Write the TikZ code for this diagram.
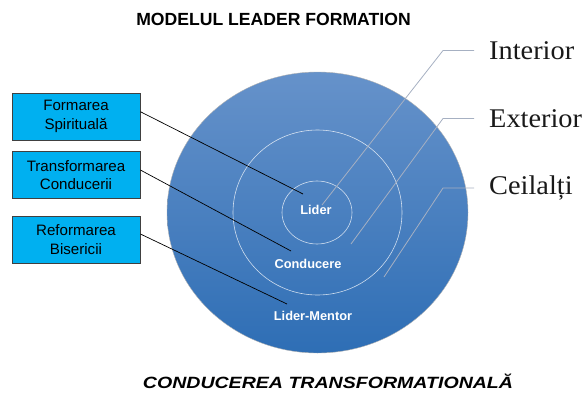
\documentclass[tikz,border=0pt]{standalone}
\usepackage{fontspec}
\newfontfamily\arial{Liberation Sans}
\newfontfamily\serifside{Liberation Serif}
\usetikzlibrary{shapes.geometric}
\definecolor{boxcyan}{RGB}{0,176,240}
\definecolor{boxline}{RGB}{64,64,64}
\definecolor{topblue}{RGB}{102,146,202}
\definecolor{botblue}{RGB}{46,110,181}
\definecolor{callgray}{RGB}{166,176,194}
\newcommand{\sidetext}[1]{\scalebox{1.05}[1]{#1}}
\begin{document}
\begin{tikzpicture}[x=1pt,y=-1pt,
 lbox/.style={draw=boxline, line width=0.8pt, fill=boxcyan, minimum width=128pt, minimum height=47pt, inner sep=0pt, align=center, font=\arial\fontsize{15.1}{18.3}\selectfont},
 ring/.style={ellipse, draw=white, draw opacity=0.75, line width=0.6pt, inner sep=0pt},
 inlbl/.style={text=white, font=\arial\bfseries\fontsize{12.8}{14}\selectfont, inner sep=0pt},
 sidelbl/.style={anchor=west, inner xsep=15pt, inner ysep=0pt, text=black!90, font=\serifside\fontsize{27}{30}\selectfont},
 callout/.style={draw=callgray, line width=0.8pt},
 lead/.style={draw=black, line width=0.7pt}]
\useasboundingbox (0,0) rectangle (586,394);
% circles
\node[ellipse, minimum width=301pt, minimum height=281pt, inner sep=0pt, top color=topblue, bottom color=botblue, draw=black!30, line width=0.4pt] (outer) at (317.5,212.5) {};
\node[ring, minimum width=169pt, minimum height=165pt] (mid) at (317.5,212.5) {};
\node[ring, minimum width=70pt, minimum height=63pt] (inner) at (317,212.5) {};
% inner labels
\node[inlbl] (lider) at (316,210) {Lider};
\node[inlbl] (cond) at (308,264) {Conducere};
\node[inlbl] (lm) at (313,316) {Lider-Mentor};
% left boxes
\node[lbox] (b1) at (76,116.5) {Formarea\\Spirituală};
\node[lbox] (b2) at (76,175) {Transformarea\\Conducerii};
\node[lbox] (b3) at (76,239.5) {Reformarea\\Bisericii};
\coordinate (e1) at (303,194);
\coordinate (e2) at (291,251);
\coordinate (e3) at (287,304);
\draw[lead] ([yshift=4.8pt]b1.east) -- (e1);
\draw[lead] ([yshift=5pt]b2.east) -- (e2);
\draw[lead] ([yshift=5.5pt]b3.east) -- (e3);
% right labels
\node[sidelbl] (lint) at (474,50.5) {\sidetext{Interior}};
\node[sidelbl] (lext) at (474,118.5) {\sidetext{Exterior}};
\node[sidelbl] (lcei) at (474,188) {\sidetext{Ceilalți}};
\coordinate (k1) at (443,50.5);
\coordinate (k2) at (443,118.5);
\coordinate (k3) at (443,188);
\coordinate (t1) at (322,205);
\coordinate (t2) at (351,244);
\coordinate (t3) at (384,277);
\draw[callout] (lint.west) -- (k1) -- (t1);
\draw[callout] (lext.west) -- (k2) -- (t2);
\draw[callout] (lcei.west) -- (k3) -- (t3);
% titles
\node[anchor=base, inner sep=0pt, font=\arial\bfseries\fontsize{17.6}{20}\selectfont] (title) at (273.5,25) {MODELUL LEADER FORMATION};
\node[anchor=base, inner sep=0pt, font=\arial\bfseries\itshape\fontsize{16.3}{19}\selectfont] (caption) at (328,388.3) {\scalebox{1.2}[1]{CONDUCEREA TRANSFORMATIONALĂ}};
\end{tikzpicture}
\end{document}
